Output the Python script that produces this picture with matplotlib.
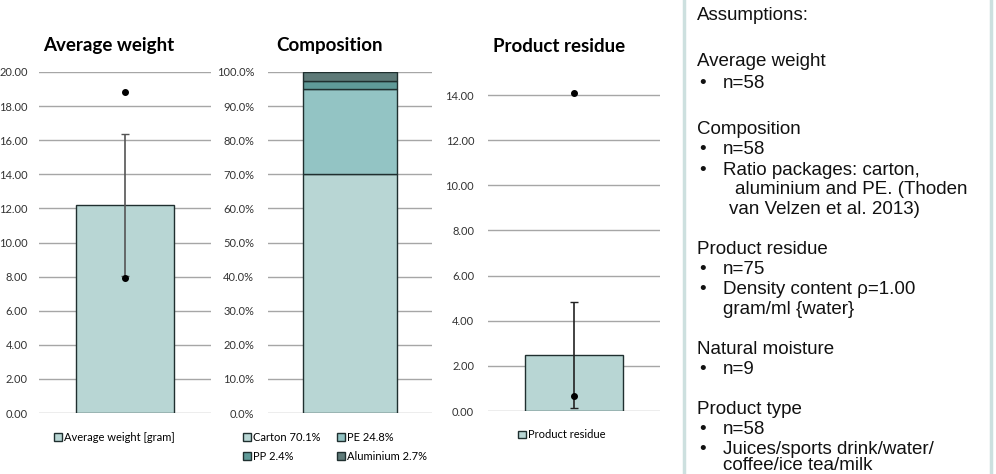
import matplotlib.pyplot as plt
from matplotlib.patches import Rectangle

# data
weight_mean = 12.2
weight_sd = 4.15
weight_points = [18.8, 7.9]

comp_names = ["Carton 70.1%", "PE 24.8%", "PP 2.4%", "Aluminium 2.7%"]
comp_values = [70.1, 24.8, 2.4, 2.7]
comp_colors = ["#b8d6d4", "#93c4c4", "#5f9a98", "#5e7a78"]

residue_mean = 2.5
residue_sd = 2.35
residue_points = [14.1, 0.65]

# text lines of the assumptions box: (text, indent style)
notes = [
    ("Assumptions:", 0),
    ("Average weight", 0),
    ("n=58", 1),
    ("Composition", 0),
    ("n=58", 1),
    ("Ratio packages: carton,", 1),
    ("aluminium and PE. (Thoden", 2),
    ("van Velzen et al. 2013)", 3),
    ("Product residue", 0),
    ("n=75", 1),
    ("Density content \u03c1=1.00", 1),
    ("gram/ml {water}", 4),
    ("Natural moisture", 0),
    ("n=9", 1),
    ("Product type", 0),
    ("n=58", 1),
    ("Juices/sports drink/water/", 1),
    ("coffee/ice tea/milk", 4),
]
# vertical pixel position of each line
note_y = [16, 62, 84, 130, 150, 171, 190, 209, 250, 270, 290, 310, 350, 370, 410, 430, 449, 465]

plt.rcParams['font.family'] = ['Lato', 'DejaVu Sans']

W, H = 996, 474
fig = plt.figure(figsize=(W / 100, H / 100), dpi=100)


def px_axes(x0, x1, y0, y1):
    return fig.add_axes([x0 / W, 1 - y1 / H, (x1 - x0) / W, (y1 - y0) / H])


def style(ax, ticks, fmt, pad):
    ax.set_yticks(ticks)
    ax.set_yticklabels([fmt.format(t) for t in ticks])
    ax.yaxis.grid(True, color="#a6a6a6", linewidth=1.0)
    ax.set_axisbelow(True)
    for s in ax.spines.values():
        s.set_visible(False)
    ax.tick_params(axis='y', length=0, pad=pad, labelsize=8, labelcolor="#333333")
    ax.set_xticks([])
    ax.set_xlim(-0.5, 0.5)


bar_w = 0.57
edge = "#1f2f2f"
leg_kw = dict(frameon=False, fontsize=8, handlelength=0.7, handleheight=0.7, handletextpad=0.2)

# Average weight
ax1 = px_axes(39, 211, 72, 413)
ax1.bar(0, weight_mean, width=bar_w, color="#b8d6d4", edgecolor=edge, linewidth=1.0,
        label="Average weight [gram]")
ax1.errorbar(0, weight_mean, yerr=weight_sd, color="#555555", capsize=3, linewidth=1.2)
ax1.plot([0] * len(weight_points), weight_points, 'o', color="black", markersize=4)
ax1.set_ylim(0, 20)
style(ax1, [0, 2, 4, 6, 8, 10, 12, 14, 16, 18, 20], "{:.2f}", 8)
ax1.legend(loc="upper center", bbox_to_anchor=(0.44, -0.025), **leg_kw)
fig.text(109 / W, 1 - 46 / H, "Average weight", ha="center", va="center",
         fontsize=13.5, fontweight="bold")

# Composition
ax2 = px_axes(268, 432, 72, 413)
bottom = 0
bars = []
for name, v, c in zip(comp_names, comp_values, comp_colors):
    b = ax2.bar(0, v, bottom=bottom, width=0.573, color=c, edgecolor=edge, linewidth=1.0,
                label=name)
    bars.append(b)
    bottom += v
ax2.set_ylim(0, 100)
style(ax2, list(range(0, 101, 10)), "{:.1f}%", 10)
order = [0, 2, 1, 3]
ax2.legend([bars[i] for i in order], [comp_names[i] for i in order], loc="upper center",
           bbox_to_anchor=(0.41, -0.025), ncol=2, columnspacing=1.5, labelspacing=0.75,
           **leg_kw)
fig.text(329 / W, 1 - 46 / H, "Composition", ha="center", va="center",
         fontsize=13.5, fontweight="bold")

# Product residue
ax3 = px_axes(488, 660, 72, 411)
ax3.bar(0, residue_mean, width=bar_w, color="#b8d6d4", edgecolor=edge, linewidth=1.0,
        label="Product residue")
ax3.errorbar(0, residue_mean, yerr=residue_sd, color="#222222", capsize=3, linewidth=1.2)
ax3.plot([0] * len(residue_points), residue_points, 'o', color="black", markersize=4)
ax3.set_ylim(0, 15.02)
style(ax3, [0, 2, 4, 6, 8, 10, 12, 14], "{:.2f}", 10)
ax3.legend(loc="upper center", bbox_to_anchor=(0.43, -0.025), **leg_kw)
fig.text(559 / W, 1 - 46 / H, "Product residue", ha="center", va="center",
         fontsize=13.5, fontweight="bold")

# notes box
fig.patches.append(Rectangle((684 / W, -0.05), (991 - 684) / W, 1.1, transform=fig.transFigure,
                             facecolor="white", edgecolor="#cde0df", linewidth=2.5))
indent = {0: 697, 1: 723, 2: 735, 3: 729, 4: 723}
for (txt, lvl), y in zip(notes, note_y):
    fig.text(indent[lvl] / W, 1 - y / H, txt, ha="left", va="center", fontsize=13.5,
             family="Liberation Sans", color="#111111")
    if lvl == 1:
        fig.text(699 / W, 1 - y / H, "\u2022", ha="left", va="center", fontsize=13.5,
                 family="Liberation Sans", color="#111111")

fig.savefig("out.png", dpi=100)
